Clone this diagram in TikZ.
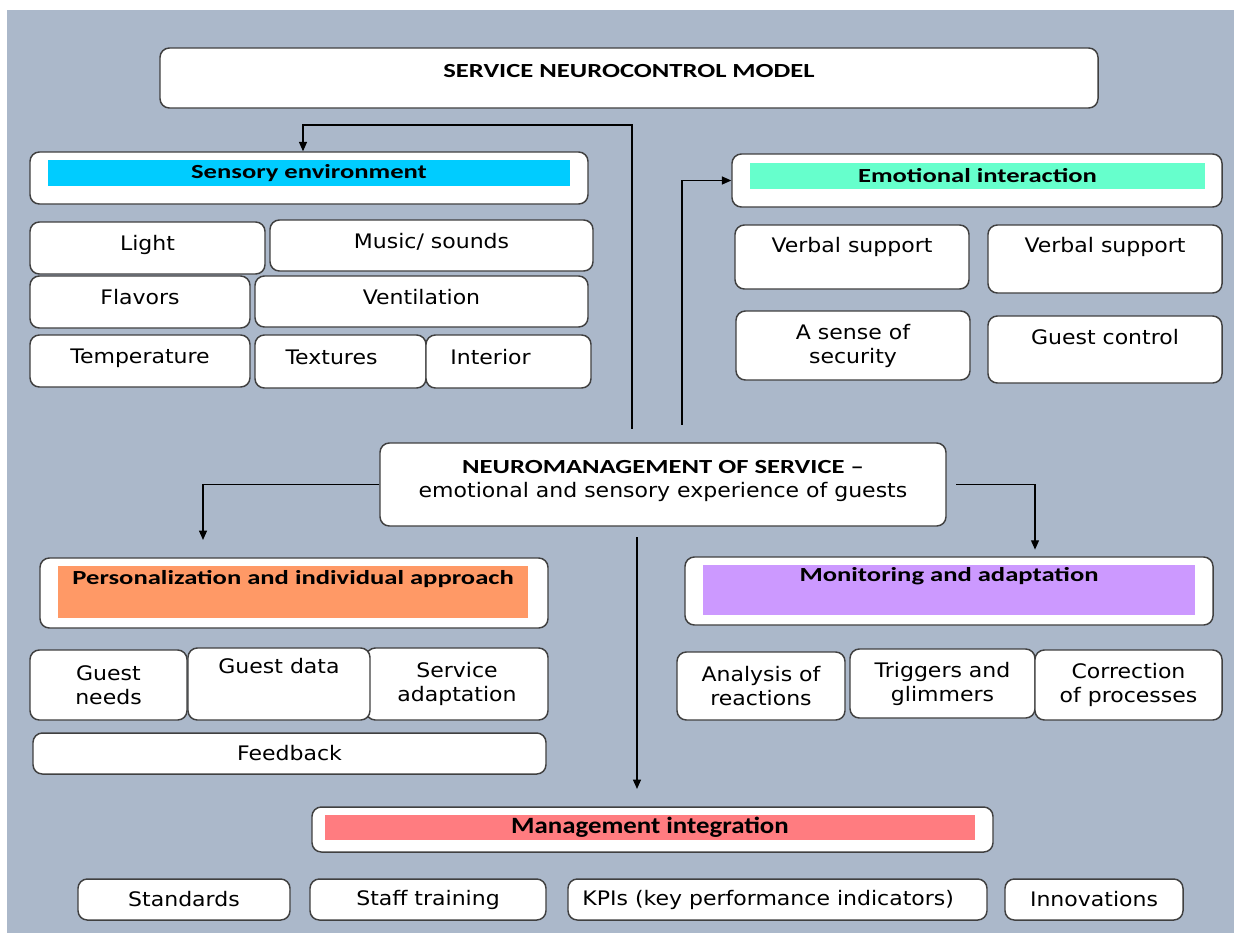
\documentclass[tikz,border=0pt]{standalone}
\usepackage{fontspec}
\usepackage{xcolor}
\usepackage{tikz}
\usetikzlibrary{arrows.meta, positioning, calc}

\newfontfamily\regfont{DejaVu Sans}[FakeStretch=1.1]
\newfontfamily\headfont{Carlito}[FakeStretch=1.33]
\newfontfamily\mgfont{Carlito}[FakeStretch=1.15]

\definecolor{bgblue}{HTML}{ABB8CA}
\definecolor{edge}{HTML}{404040}
\definecolor{cyanband}{HTML}{00CCFF}
\definecolor{mintband}{HTML}{66FFCC}
\definecolor{orangeband}{HTML}{FF9966}
\definecolor{lilacband}{HTML}{CC99FF}
\definecolor{roseband}{HTML}{FF7C80}

\begin{document}
\begin{tikzpicture}[
    x=0.75pt, y=-0.75pt,
    font=\regfont\fontsize{15}{18}\selectfont,
    sz/.style 2 args={minimum width=#1*0.75pt, minimum height=#2*0.75pt},
    cell/.style={draw=edge, fill=white, rounded corners=7pt, line width=1.1pt,
                 align=center, inner sep=2pt},
    band/.style={inner sep=0pt, font=\headfont\bfseries\fontsize{15}{18}\selectfont},
    arr/.style={-{Triangle[length=7pt,width=6pt]}, line width=0.9pt},
  ]

  \useasboundingbox (0,0) rectangle (1234,933);
  \fill[white] (0,0) rectangle (1234,933);
  \fill[bgblue] (7,10) rectangle (1234,933);

  % title
  \node[cell, sz={938}{60}, text depth=10.5pt,
        font=\headfont\bfseries\fontsize{15}{18}\selectfont] (title) at (629,78)
    {SERVICE NEUROCONTROL MODEL};

  % sensory environment
  \node[cell, sz={558}{52}] (sens) at (309,178) {};
  \node[band, fill=cyanband, sz={522}{26}] (senst) at (309,173) {Sensory environment};
  \node[cell, sz={235}{52}, text depth=7pt] (light) at (147.5,248) {Light};
  \node[cell, sz={323}{51}, text depth=7pt] (music) at (431.5,245.5) {Music/ sounds};
  \node[cell, sz={220}{52}, text depth=7pt] (flav) at (140,302) {Flavors};
  \node[cell, sz={333}{51}, text depth=7pt] (vent) at (421.5,301.5) {Ventilation};
  \node[cell, sz={220}{52}, text depth=7pt] (temp) at (140,361) {Temperature};
  \node[cell, sz={171}{53}, text depth=7pt] (text) at (340.5,361.5) {Textures\hspace*{13.5pt}};
  \node[cell, sz={165}{53}, text depth=7pt] (inter) at (508.5,361.5) {Interior\hspace*{27pt}};

  % emotional interaction
  \node[cell, sz={490}{53}] (emo) at (977,180.5) {};
  \node[band, fill=mintband, sz={455}{26}] (emot) at (977.5,176) {Emotional interaction};
  \node[cell, sz={234}{64}, text depth=18.5pt] (verb1) at (852,257) {Verbal support};
  \node[cell, sz={234}{68}, text depth=21.5pt] (verb2) at (1105,259) {Verbal support};
  \node[cell, sz={234}{69}] (secur) at (853,345.5) {A sense of\\ security};
  \node[cell, sz={234}{67}, text depth=18.5pt] (gctrl) at (1105,349.5) {Guest control};

  % core
  \node[cell, sz={566}{83}, text depth=9pt] (neuro) at (663,484.5)
    {{\headfont\bfseries NEUROMANAGEMENT OF SERVICE \textendash}\\
     emotional and sensory experience of guests};

  % personalization
  \node[cell, sz={508}{70}] (pers) at (294,593) {};
  \node[band, fill=orangeband, sz={470}{52}, text depth=21.8pt] (perst) at (293,592)
    {Personalization and individual approach};
  \node[cell, sz={157}{70}] (gneed) at (108.5,685) {Guest\\ needs};
  \node[cell, sz={182}{72}] (sadapt) at (457,684) {Service\\ adaptation};
  \node[cell, sz={182}{72}, text depth=27.5pt] (gdata) at (279,684) {Guest data};
  \node[cell, sz={513}{41}] (feed) at (289.5,753.5) {Feedback};

  % monitoring
  \node[cell, sz={528}{68}] (mon) at (949,591) {};
  \node[band, fill=lilacband, sz={492}{50}, text depth=23.3pt] (mont) at (949,590)
    {Monitoring and adaptation};
  \node[cell, sz={168}{68}] (anal) at (761,686) {Analysis of\\ reactions};
  \node[cell, sz={185}{69}] (trig) at (942.5,683.5) {Triggers and\\ glimmers};
  \node[cell, sz={187}{70}] (corr) at (1128.5,685) {Correction\\ of processes};

  % management integration
  \node[cell, sz={681}{45}] (mgmt) at (652.5,829.5) {};
  \node[band, fill=roseband, sz={650}{25},
        font=\mgfont\bfseries\fontsize{17.5}{20}\selectfont] (mgmtt) at (650,827.5)
    {Management integration};
  \node[cell, sz={212}{41}] (stand) at (184,899.5) {Standards};
  \node[cell, sz={236}{41}] (staff) at (428,899.5) {Staff training};
  \node[cell, sz={419}{41}] (kpi) at (777.5,899.5) {KPIs (key performance indicators)\hspace*{14pt}};
  \node[cell, sz={178}{41}] (innov) at (1094,899.5) {Innovations};

  % connectors
  \coordinate (upx) at (632,125);
  \coordinate (sensx) at (303,125);
  \coordinate (emox) at (682,0);
  \coordinate (persx) at (203,0);
  \coordinate (monx) at (1035,0);
  \coordinate (mgx) at (637,0);

  \draw[arr, shorten <=10pt] (neuro.north -| upx) |- (sensx) -- (sens.north -| sensx);
  \draw[arr, shorten <=13pt] (neuro.north -| emox) |- (emo.west);
  \draw[arr, shorten >=13pt] (neuro.west) -| (pers.north -| persx);
  \draw[arr, shorten <=7pt, shorten >=5pt] (neuro.east) -| (mon.north -| monx);
  \draw[arr, shorten <=8pt, shorten >=13pt] (neuro.south -| mgx) -- (mgmt.north -| mgx);
\end{tikzpicture}
\end{document}
